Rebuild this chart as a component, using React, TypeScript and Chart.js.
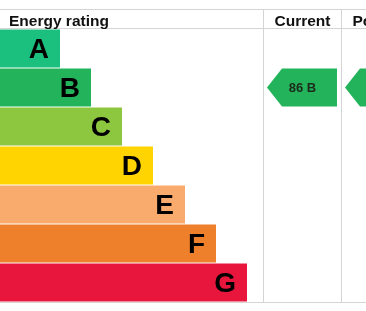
import React, { useEffect, useRef } from "react";
import { Chart, registerables } from "chart.js";

Chart.register(...registerables);

const CATEGORIES = ["A", "B", "C", "D", "E", "F", "G"];
const BAR_LENGTHS = [60, 91, 122, 153, 185, 216, 247];
const BAR_COLORS = ["#1bc07f", "#23b35a", "#8dc63f", "#ffd400", "#f9ab6d", "#ee7f2b", "#e8163d"];
const COLUMN_TITLES = ["Energy rating", "Current", "Potential"];
const CURRENT_SCORE = 86;
const CURRENT_BAND = "B";
const POTENTIAL_SCORE = 86;
const POTENTIAL_BAND = "B";

const FONT = "'Liberation Sans', Arial, sans-serif";
const LINE = "#d4d4d4";
const COL_CURRENT = 263;
const COL_POTENTIAL = 341;
const COL_END = 419;

const tablePlugin = {
  id: "epcTable",
  afterDatasetsDraw(chart: any) {
    const ctx = chart.ctx;
    const xs = chart.scales.x;
    const area = chart.chartArea;
    const W = chart.width;
    const headerTop = 9;
    const headerBottom = area.top - 1;
    ctx.save();
    // grid lines
    ctx.strokeStyle = LINE;
    ctx.lineWidth = 1;
    ctx.beginPath();
    ctx.moveTo(0, headerTop + 0.5);
    ctx.lineTo(W, headerTop + 0.5);
    ctx.moveTo(0, headerBottom + 0.5);
    ctx.lineTo(W, headerBottom + 0.5);
    ctx.moveTo(0, area.bottom + 0.5);
    ctx.lineTo(W, area.bottom + 0.5);
    const xc = Math.round(xs.getPixelForValue(COL_CURRENT)) + 0.5;
    const xp = Math.round(xs.getPixelForValue(COL_POTENTIAL)) + 0.5;
    ctx.moveTo(xc, headerTop);
    ctx.lineTo(xc, area.bottom);
    ctx.moveTo(xp, headerTop);
    ctx.lineTo(xp, area.bottom);
    ctx.stroke();

    // header texts
    ctx.fillStyle = "#111";
    ctx.font = `bold 15.5px ${FONT}`;
    ctx.textBaseline = "alphabetic";
    ctx.textAlign = "left";
    const hy = 25.5;
    ctx.fillText(COLUMN_TITLES[0], 9, hy);
    ctx.fillText(COLUMN_TITLES[1], xc + 11, hy);
    ctx.fillText(COLUMN_TITLES[2], xp + 11, hy);

    // band letters
    const meta = chart.getDatasetMeta(0);
    ctx.font = `bold 28px ${FONT}`;
    ctx.textAlign = "right";
    ctx.textBaseline = "middle";
    ctx.fillStyle = "#000";
    meta.data.forEach((bar: any, i: number) => {
      ctx.fillText(CATEGORIES[i], bar.x - 11, bar.y + 2);
    });

    // arrows
    const drawArrow = (colStart: number, colEnd: number, band: string, score: number) => {
      const idx = CATEGORIES.indexOf(band);
      const bar: any = meta.data[idx];
      const h = bar.height;
      const cy = bar.y;
      const left = xs.getPixelForValue(colStart) + 4;
      const right = xs.getPixelForValue(colEnd) - 4;
      const notch = left + 15;
      ctx.fillStyle = BAR_COLORS[idx];
      ctx.beginPath();
      ctx.moveTo(left, cy);
      ctx.lineTo(notch, cy - h / 2);
      ctx.lineTo(right, cy - h / 2);
      ctx.lineTo(right, cy + h / 2);
      ctx.lineTo(notch, cy + h / 2);
      ctx.closePath();
      ctx.fill();
      ctx.fillStyle = "#1c2b1c";
      ctx.font = `bold 13px ${FONT}`;
      ctx.textAlign = "center";
      ctx.textBaseline = "middle";
      ctx.fillText(`${score} ${band}`, (notch + right) / 2 - 7, cy + 1);
    };
    drawArrow(COL_CURRENT, COL_POTENTIAL, CURRENT_BAND, CURRENT_SCORE);
    drawArrow(COL_POTENTIAL, COL_END, POTENTIAL_BAND, POTENTIAL_SCORE);
    ctx.restore();
  },
};

export default function App() {
  const ref = useRef<HTMLCanvasElement>(null);
  useEffect(() => {
    document.body.style.margin = "0";
    const chart = new Chart(ref.current as HTMLCanvasElement, {
      type: "bar",
      data: {
        labels: CATEGORIES,
        datasets: [
          {
            data: BAR_LENGTHS,
            backgroundColor: BAR_COLORS,
            borderWidth: 0,
            barPercentage: 0.975,
            categoryPercentage: 1,
          },
        ],
      },
      options: {
        indexAxis: "y",
        responsive: false,
        animation: false,
        layout: { padding: { top: 29, bottom: 9, left: 0, right: 0 } },
        plugins: { legend: { display: false }, tooltip: { enabled: false } },
        scales: {
          x: { display: false, min: 0, max: 366 },
          y: { display: false },
        },
      },
      plugins: [tablePlugin],
    });
    return () => chart.destroy();
  }, []);
  return (
    <div style={{ width: 366, height: 311, background: "#fff" }}>
      <canvas ref={ref} width={366} height={311} />
    </div>
  );
}
